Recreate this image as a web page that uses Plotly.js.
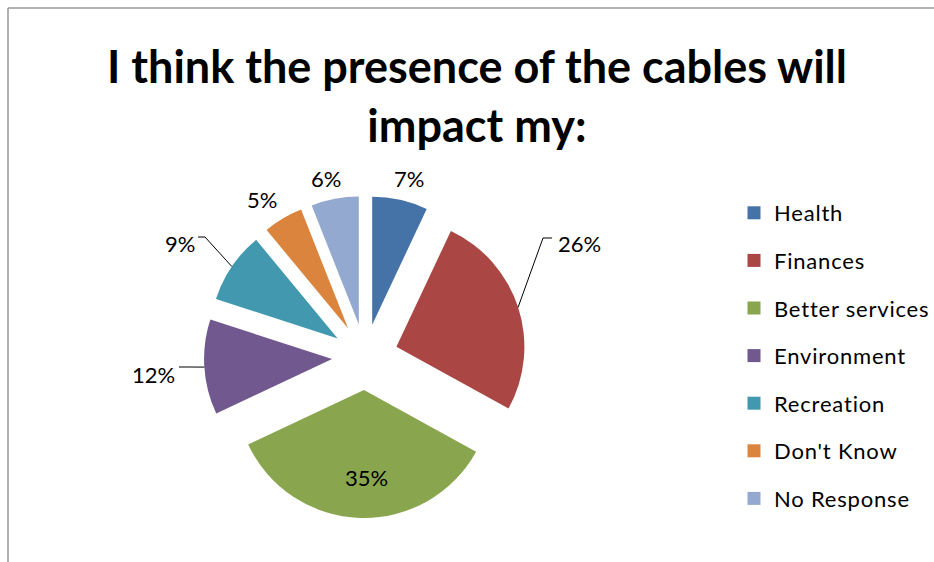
<!DOCTYPE html>
<html>
<head>
<meta charset="utf-8">
<script src="https://cdn.plot.ly/plotly-3.0.1.min.js"></script>
<style>
  html, body { margin: 0; padding: 0; background: #fff; }
  #chart { width: 934px; height: 562px; }
  #chart .legendtext { letter-spacing: 0.8px; }
  #chart .legend .scrollbox, #chart .legend { clip-path: none !important; }
</style>
</head>
<body>
<div id="chart"></div>
<script>
const categories = ["Health", "Finances", "Better services", "Environment", "Recreation", "Don't Know", "No Response"];
const values = [7, 26, 35, 12, 9, 5, 6];
const colors = ["#4572A7", "#AA4643", "#89A54E", "#71588F", "#4198AF", "#DB843D", "#93A9CF"];
const titleText = "I think the presence of the cables will<br>impact my:";

const W = 934, H = 562;
const FONT = "Lato, 'Open Sans', sans-serif";

// pie geometry (pixels): centre, radius, pull fraction
const CX = 365, CY = 357, HALF = 161, PULL = 0.258;

// label placement (pixel centres of data labels, same order as categories)
const labelPx = [[409, 178], [579, 244], [366, 477], [153, 374], [180, 244], [262, 199], [326, 178]];
// leader lines: [category index, elbow x, elbow y, end x, end y]
const leaders = [[1, 543, 238, 552, 238], [4, 205, 237, 198, 237], [3, 190, 367, 179, 367]];

const px = x => x / W;
const py = y => 1 - y / H;

const pie = {
  type: "pie",
  labels: categories,
  values: values,
  sort: false,
  direction: "clockwise",
  rotation: 0,
  pull: values.map(() => PULL),
  marker: { colors: colors, line: { width: 0 } },
  textinfo: "none",
  showlegend: false,
  hoverinfo: "label+percent",
  domain: { x: [px(CX - HALF), px(CX + HALF)], y: [py(CY + HALF), py(CY - HALF)] }
};

// legend entries (one per category, drawn as square swatches)
const legendTraces = categories.map((c, i) => ({
  type: "scatter",
  mode: "markers",
  x: [null], y: [null],
  name: c,
  legendgroup: "g" + i,
  marker: { symbol: "square", size: 13, color: colors[i], line: { width: 0 } },
  showlegend: true,
  hoverinfo: "skip"
}));

// data labels
const total = values.reduce((a, b) => a + b, 0);
const annotations = values.map((v, i) => ({
  xref: "paper", yref: "paper",
  x: px(labelPx[i][0]), y: py(labelPx[i][1]),
  xanchor: "center", yanchor: "middle",
  text: v + "%",
  showarrow: false,
  font: { family: FONT, size: 22, color: "#000" }
}));

// frame + leader lines from the outer edge of each (pulled) slice to its label
const shapes = [
  { type: "line", xref: "paper", yref: "paper", x0: px(8), x1: px(8), y0: 0, y1: py(8), line: { color: "#999", width: 1.5 } },
  { type: "line", xref: "paper", yref: "paper", x0: px(8), x1: 1, y0: py(8), y1: py(8), line: { color: "#999", width: 1.5 } }
];
let cum = 0;
const midAngles = values.map(v => { const a = (cum + v / 2) / total * 2 * Math.PI; cum += v; return a; });
leaders.forEach(([i, ex, ey, tx, ty]) => {
  const a = midAngles[i];
  const sx = CX + HALF * Math.sin(a), sy = CY - HALF * Math.cos(a);
  shapes.push({
    type: "path", xref: "paper", yref: "paper",
    path: `M ${px(sx)} ${py(sy)} L ${px(ex)} ${py(ey)} L ${px(tx)} ${py(ty)}`,
    line: { color: "#000", width: 1 }
  });
});

const layout = {
  width: W, height: H,
  margin: { l: 0, r: 0, t: 0, b: 0 },
  paper_bgcolor: "#fff",
  plot_bgcolor: "rgba(0,0,0,0)",
  font: { family: FONT, color: "#000" },
  title: {
    text: titleText,
    font: { family: FONT, size: 45, color: "#000", weight: "bold" },
    x: px(477), xanchor: "center",
    y: py(83), yanchor: "top"
  },
  xaxis: { visible: false, showgrid: false, zeroline: false },
  yaxis: { visible: false, showgrid: false, zeroline: false },
  showlegend: true,
  legend: {
    x: px(734), xanchor: "left",
    y: py(192), yanchor: "top",
    traceorder: "grouped",
    tracegroupgap: 16,
    font: { family: FONT, size: 22, color: "#000" },
    bgcolor: "rgba(0,0,0,0)",
    borderwidth: 0
  },
  annotations: annotations,
  shapes: shapes
};

Plotly.newPlot("chart", [pie].concat(legendTraces), layout, { displayModeBar: false, staticPlot: true });
</script>
</body>
</html>
